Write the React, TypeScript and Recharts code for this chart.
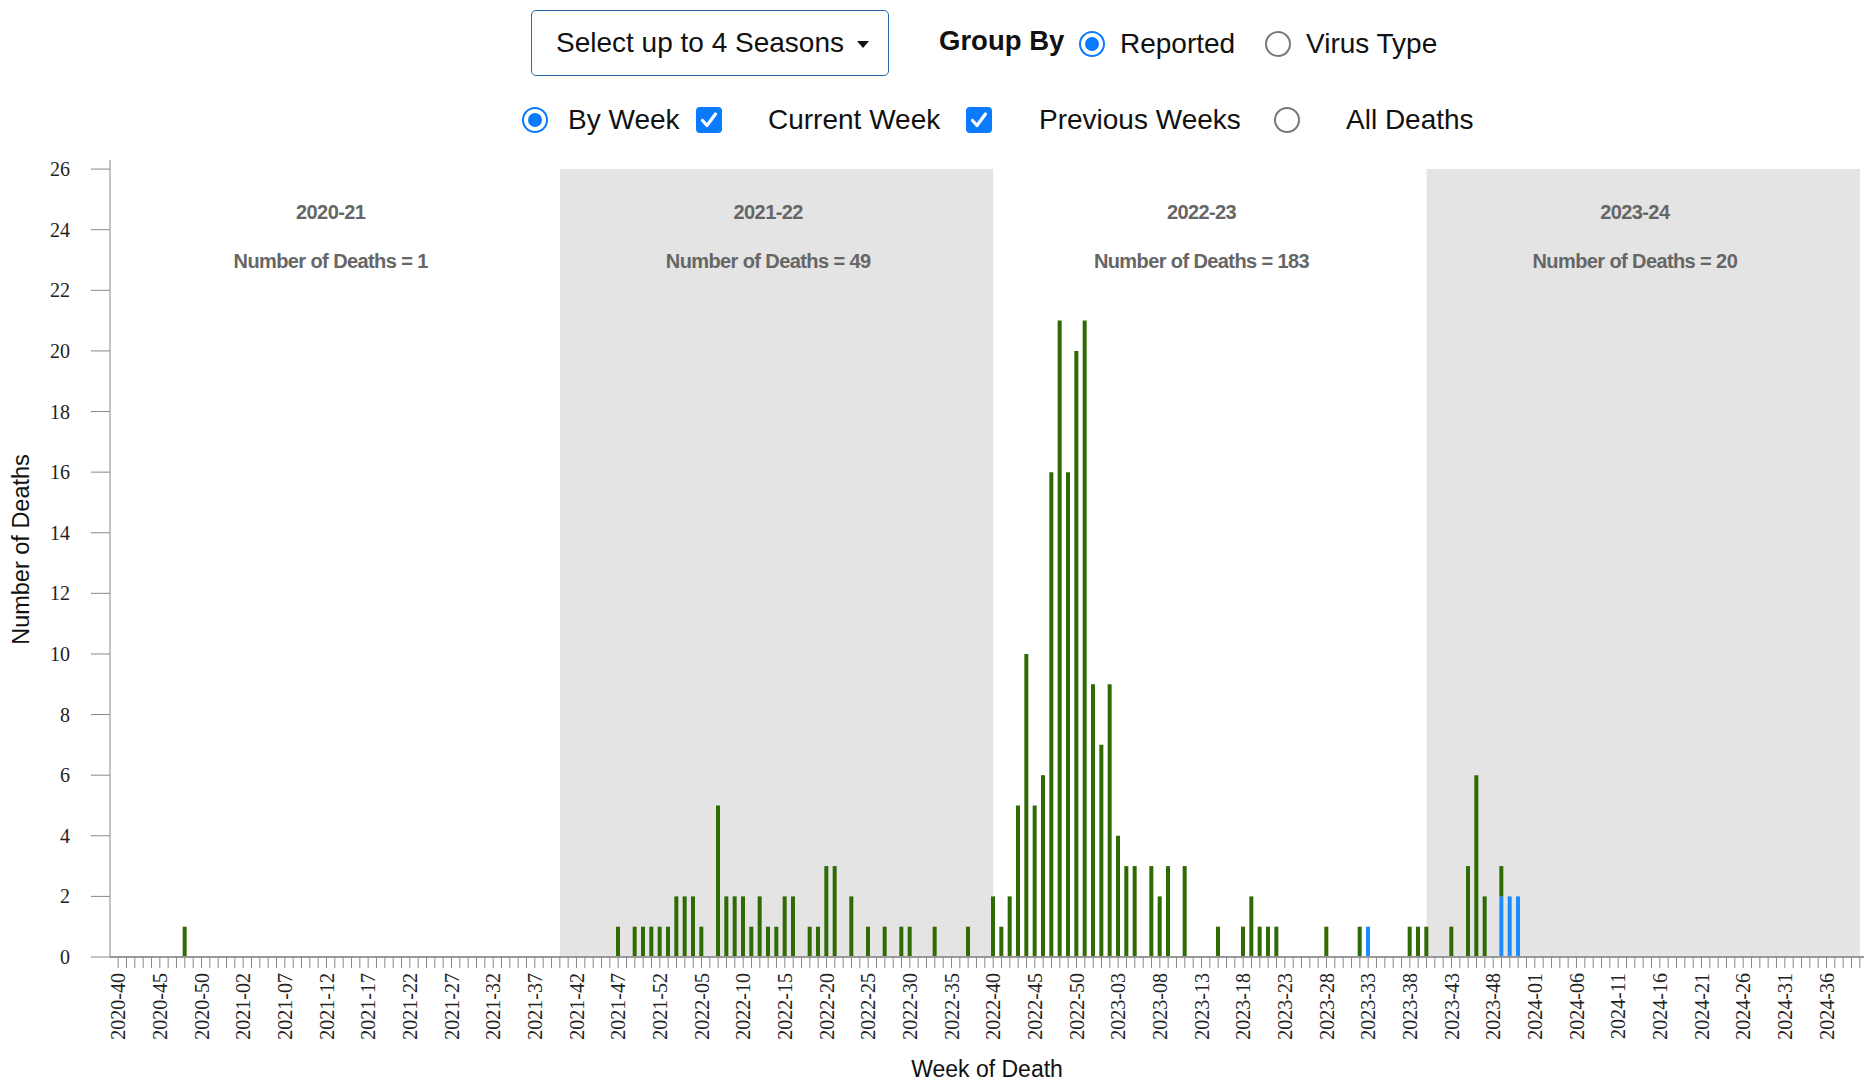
import React from "react";
import { BarChart, Bar, XAxis, YAxis, ReferenceArea, ReferenceLine, Label } from "recharts";

// season definitions (boundaries fall on week 40 of each year)
const seasons = ["2020-21", "2021-22", "2022-23", "2023-24"];
const seasonBounds = ["2020-40", "2021-40", "2022-40", "2023-40", "2024-40"];
const seasonDeaths = [1, 49, 183, 20];
const seasonShaded = [false, true, false, true];

// ISO weeks per year on the axis
const weeksInYear: Record<number, number> = { 2020: 53, 2021: 52, 2022: 52, 2023: 52, 2024: 52 };
const firstWeek = { year: 2020, week: 40 };
const lastWeek = { year: 2024, week: 40 };

const weeks: string[] = [];
for (let y = firstWeek.year, w = firstWeek.week; y < lastWeek.year || w <= lastWeek.week; ) {
  weeks.push(`${y}-${String(w).padStart(2, "0")}`);
  w++;
  if (w > weeksInYear[y]) {
    w = 1;
    y++;
  }
}

// deaths reported in previous weeks (green)
const previousWeeks: Record<string, number> = {
  "2020-48": 1,
  "2021-47": 1, "2021-49": 1, "2021-50": 1, "2021-51": 1, "2021-52": 1,
  "2022-01": 1, "2022-02": 2, "2022-03": 2, "2022-04": 2, "2022-05": 1, "2022-07": 5,
  "2022-08": 2, "2022-09": 2, "2022-10": 2, "2022-11": 1, "2022-12": 2, "2022-13": 1,
  "2022-14": 1, "2022-15": 2, "2022-16": 2, "2022-18": 1, "2022-19": 1, "2022-20": 3,
  "2022-21": 3, "2022-23": 2, "2022-25": 1, "2022-27": 1, "2022-29": 1, "2022-30": 1,
  "2022-33": 1, "2022-37": 1,
  "2022-40": 2, "2022-41": 1, "2022-42": 2, "2022-43": 5, "2022-44": 10, "2022-45": 5,
  "2022-46": 6, "2022-47": 16, "2022-48": 21, "2022-49": 16, "2022-50": 20, "2022-51": 21,
  "2022-52": 9, "2023-01": 7, "2023-02": 9, "2023-03": 4, "2023-04": 3, "2023-05": 3,
  "2023-07": 3, "2023-08": 2, "2023-09": 3, "2023-11": 3, "2023-15": 1, "2023-18": 1,
  "2023-19": 2, "2023-20": 1, "2023-21": 1, "2023-22": 1, "2023-28": 1, "2023-32": 1,
  "2023-38": 1, "2023-39": 1,
  "2023-40": 1, "2023-43": 1, "2023-45": 3, "2023-46": 6, "2023-47": 2, "2023-49": 1,
};

// deaths reported in the current week (blue)
const currentWeek: Record<string, number> = {
  "2023-33": 1, "2023-49": 2, "2023-50": 2, "2023-51": 2,
};

const yTicks = [0, 2, 4, 6, 8, 10, 12, 14, 16, 18, 20, 22, 24, 26];

const data = weeks.map((week, idx) => ({
  week,
  idx,
  current: currentWeek[week] ?? 0,
  previous: previousWeeks[week] ?? 0,
}));

const GREEN = "#2f6b05";
const BLUE = "#1a8cff";
const UI_BLUE = "#0a7aff";
const SANS = "'Liberation Sans', Arial, Helvetica, sans-serif";
const SERIF = "'Liberation Serif', 'Times New Roman', serif";
const X_PAD = { left: 4, right: 0 };

function WeekTick(props: any) {
  const { x, y, payload, index } = props;
  if (index % 5 !== 0) return <g />;
  return (
    <text
      x={x}
      y={y}
      transform={`rotate(-90 ${x} ${y})`}
      textAnchor="end"
      dominantBaseline="central"
      fontSize={20}
      fontFamily={SERIF}
      fill="#222"
    >
      {payload.value}
    </text>
  );
}

function seasonLabel(i: number) {
  return (props: any) => {
    const vb = props.viewBox || {};
    const cx = vb.x;
    return (
      <g fontFamily={SANS} fontWeight="bold" fontSize={20} fill="#666" letterSpacing={-0.6} textAnchor="middle">
        <text x={cx} y={vb.y + 52} dominantBaseline="central">{seasons[i]}</text>
        <text x={cx} y={vb.y + 101} dominantBaseline="central">{`Number of Deaths = ${seasonDeaths[i]}`}</text>
      </g>
    );
  };
}

function Radio({ cx, cy, checked }: { cx: number; cy: number; checked: boolean }) {
  const s = 26;
  return (
    <div
      style={{
        position: "absolute",
        left: cx - s / 2,
        top: cy - s / 2,
        width: s,
        height: s,
        boxSizing: "border-box",
        borderRadius: "50%",
        border: checked ? `2.5px solid ${UI_BLUE}` : "2px solid #777",
        background: "#fff",
      }}
    >
      {checked && (
        <div
          style={{
            position: "absolute",
            left: 3.5,
            top: 3.5,
            width: 14,
            height: 14,
            borderRadius: "50%",
            background: UI_BLUE,
          }}
        />
      )}
    </div>
  );
}

function Checkbox({ cx, cy }: { cx: number; cy: number }) {
  const s = 26;
  return (
    <div
      style={{
        position: "absolute",
        left: cx - s / 2,
        top: cy - s / 2,
        width: s,
        height: s,
        borderRadius: 4,
        background: UI_BLUE,
      }}
    >
      <svg width={s} height={s} viewBox="0 0 26 26">
        <path d="M6.5 13.5 L11 18.5 L19.5 7" fill="none" stroke="#fff" strokeWidth={3.2} strokeLinecap="round" strokeLinejoin="round" />
      </svg>
    </div>
  );
}

function Txt({ x, cy, children, bold }: { x: number; cy: number; children: React.ReactNode; bold?: boolean }) {
  return (
    <div
      style={{
        position: "absolute",
        left: x,
        top: cy - 20,
        height: 40,
        lineHeight: "40px",
        fontFamily: SANS,
        fontSize: bold ? 27.5 : 28,
        fontWeight: bold ? "bold" : "normal",
        color: "#111",
        whiteSpace: "nowrap",
      }}
    >
      {children}
    </div>
  );
}

export default function App() {
  const bounds = seasonBounds.map((b) => weeks.indexOf(b));
  const shades = seasons.map((_, i) => ({
    x1: bounds[i],
    x2: bounds[i + 1],
    // label sits at the middle of the season's weeks, half a week to the left
    mid: (bounds[i] + bounds[i + 1] - 1) / 2 - 0.5,
  }));

  return (
    <div style={{ position: "absolute", left: 0, top: 0, width: 1868, height: 1083, background: "#fff" }}>
      {/* controls */}
      <div
        style={{
          position: "absolute",
          left: 531,
          top: 10,
          width: 358,
          height: 66,
          boxSizing: "border-box",
          border: "1.5px solid #2b67ab",
          borderRadius: 5,
        }}
      >
        <div
          style={{
            position: "absolute",
            left: 24,
            top: 12,
            lineHeight: "40px",
            fontFamily: SANS,
            fontSize: 28,
            color: "#111",
            whiteSpace: "nowrap",
          }}
        >
          Select up to 4 Seasons
        </div>
        <div
          style={{
            position: "absolute",
            left: 325,
            top: 30,
            width: 0,
            height: 0,
            borderLeft: "6px solid transparent",
            borderRight: "6px solid transparent",
            borderTop: "7px solid #111",
          }}
        />
      </div>
      <Txt x={939} cy={41} bold>Group By</Txt>
      <Radio cx={1092} cy={44} checked />
      <Txt x={1120} cy={44}>Reported</Txt>
      <Radio cx={1278} cy={44} checked={false} />
      <Txt x={1306} cy={44}>Virus Type</Txt>

      <Radio cx={535} cy={120} checked />
      <Txt x={568} cy={120}>By Week</Txt>
      <Checkbox cx={709} cy={120} />
      <Txt x={768} cy={120}>Current Week</Txt>
      <Checkbox cx={979} cy={120} />
      <Txt x={1039} cy={120}>Previous Weeks</Txt>
      <Radio cx={1287} cy={120} checked={false} />
      <Txt x={1346} cy={120}>All Deaths</Txt>

      <div style={{ position: "absolute", left: 0, top: 0 }}>
        <BarChart
          width={1868}
          height={1083}
          data={data}
          margin={{ top: 160, right: 4, bottom: 0, left: 0 }}
          barGap={0}
        >
          <XAxis
            xAxisId="num"
            type="number"
            dataKey="idx"
            domain={[-0.5, weeks.length - 0.5]}
            padding={X_PAD}
            allowDataOverflow
            hide
          />
          <XAxis
            xAxisId="cat"
            dataKey="week"
            type="category"
            interval={0}
            height={126}
            tickSize={11}
            tickMargin={5}
            tick={<WeekTick />}
            tickLine={{ stroke: "#888" }}
            axisLine={{ stroke: "#999", strokeWidth: 2 }}
            padding={X_PAD}
          >
            <Label
              content={(p: any) => {
                const vb = p.viewBox || {};
                return (
                  <text
                    x={vb.x + vb.width / 2}
                    y={vb.y + 112}
                    textAnchor="middle"
                    dominantBaseline="central"
                    fontFamily={SANS}
                    fontSize={23}
                    fill="#111"
                  >
                    Week of Death
                  </text>
                );
              }}
            />
          </XAxis>
          <YAxis
            type="number"
            domain={[0, 26.3]}
            ticks={yTicks}
            allowDataOverflow
            width={110}
            tickSize={19}
            tickMargin={21}
            tickLine={{ stroke: "#888" }}
            axisLine={{ stroke: "#888" }}
            tick={{ fontSize: 20, fontFamily: SERIF, fill: "#222" }}
          >
            <Label
              content={(p: any) => {
                const vb = p.viewBox || {};
                const cy = vb.y + vb.height / 2 - 9;
                return (
                  <text
                    x={21}
                    y={cy}
                    transform={`rotate(-90 21 ${cy})`}
                    textAnchor="middle"
                    dominantBaseline="central"
                    fontFamily={SANS}
                    fontSize={23.5}
                    fill="#111"
                  >
                    Number of Deaths
                  </text>
                );
              }}
            />
          </YAxis>
          {shades.map((s, i) =>
            seasonShaded[i] ? (
              <ReferenceArea
                key={`area-${seasons[i]}`}
                xAxisId="num"
                x1={s.x1}
                x2={s.x2}
                y1={0}
                y2={26}
                fill="#e4e4e4"
                fillOpacity={1}
                stroke="none"
              />
            ) : null
          )}
          {shades.map((s, i) => (
            <ReferenceLine
              key={`label-${seasons[i]}`}
              xAxisId="num"
              x={s.mid}
              stroke="none"
              label={seasonLabel(i)}
            />
          ))}
          <Bar xAxisId="cat" dataKey="current" stackId="a" fill={BLUE} barSize={4} isAnimationActive={false} />
          <Bar xAxisId="cat" dataKey="previous" stackId="a" fill={GREEN} barSize={4} isAnimationActive={false} />
        </BarChart>
      </div>
    </div>
  );
}
